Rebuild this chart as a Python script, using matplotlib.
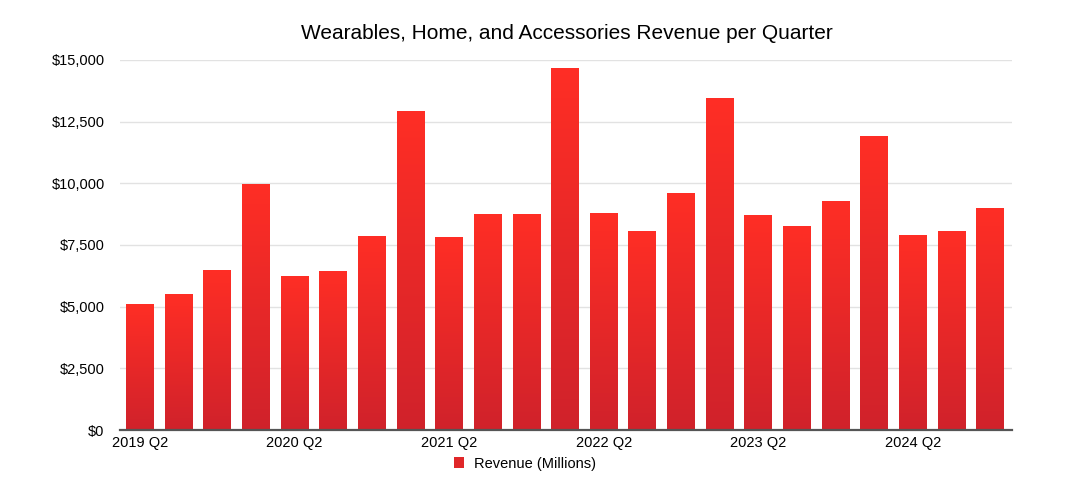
import numpy as np
import matplotlib
matplotlib.use("Agg")
import matplotlib.pyplot as plt
from matplotlib.colors import LinearSegmentedColormap
from matplotlib.patches import Patch

plt.rcParams['font.family'] = ['Liberation Sans', 'DejaVu Sans']

quarters = ["2019 Q2", "2019 Q3", "2019 Q4", "2020 Q1",
            "2020 Q2", "2020 Q3", "2020 Q4", "2021 Q1",
            "2021 Q2", "2021 Q3", "2021 Q4", "2022 Q1",
            "2022 Q2", "2022 Q3", "2022 Q4", "2023 Q1",
            "2023 Q2", "2023 Q3", "2023 Q4", "2024 Q1",
            "2024 Q2", "2024 Q3", "2024 Q4"]
revenue = [5100, 5510, 6490, 9990,
           6250, 6450, 7870, 12950,
           7830, 8760, 8770, 14680,
           8800, 8070, 9610, 13460,
           8720, 8270, 9290, 11920,
           7910, 8070, 9000]
y_ticks = [0, 2500, 5000, 7500, 10000, 12500, 15000]

fig = plt.figure(figsize=(10.71, 4.97), dpi=100)
ax = fig.add_axes([0.112, 0.1348, 0.833, 0.7445])

x = np.arange(len(revenue))
bars = ax.bar(x, revenue, width=0.72, color="none", edgecolor="none", zorder=2)

# verlauf von hellrot oben nach dunkelrot unten
cmap = LinearSegmentedColormap.from_list("rot", ["#d0222b", "#ff2e25"])
grad = np.linspace(0, 1, 256).reshape(-1, 1)
for b in bars:
    bx, by = b.get_x(), b.get_y()
    w, h = b.get_width(), b.get_height()
    im = ax.imshow(grad, extent=[bx, bx + w, 0, h], origin="lower",
                   aspect="auto", cmap=cmap, zorder=2)
    im.set_clip_path(b)

ax.set_xlim(-0.52, len(revenue) - 1 + 0.57)
ax.set_ylim(0, 15000)
ax.set_yticks(y_ticks)
ax.set_yticklabels(["${:,}".format(v) for v in y_ticks])
ax.set_xticks(x[::4])
ax.set_xticklabels(quarters[::4])
ax.tick_params(axis="both", length=0, labelsize=10.5, colors="#000000")
ax.tick_params(axis="y", pad=11)
ax.tick_params(axis="x", pad=4)

ax.yaxis.grid(True, color="#e2e2e2", linewidth=1, zorder=0)
ax.set_axisbelow(True)
for s in ["top", "right", "left"]:
    ax.spines[s].set_visible(False)
ax.spines["bottom"].set_color("#555555")
ax.spines["bottom"].set_linewidth(1.6)
ax.spines["bottom"].set_zorder(3)

fig.text(0.529, 0.933, "Wearables, Home, and Accessories Revenue per Quarter",
         ha="center", va="center", fontsize=15)

handle = Patch(facecolor="#e02729", edgecolor="none")
fig.legend([handle], ["Revenue (Millions)"], loc="center",
           bbox_to_anchor=(0.49, 0.067), frameon=False, fontsize=10.5,
           handlelength=0.7, handleheight=0.7, handletextpad=0.7)

fig.savefig("out.png", dpi=100)
